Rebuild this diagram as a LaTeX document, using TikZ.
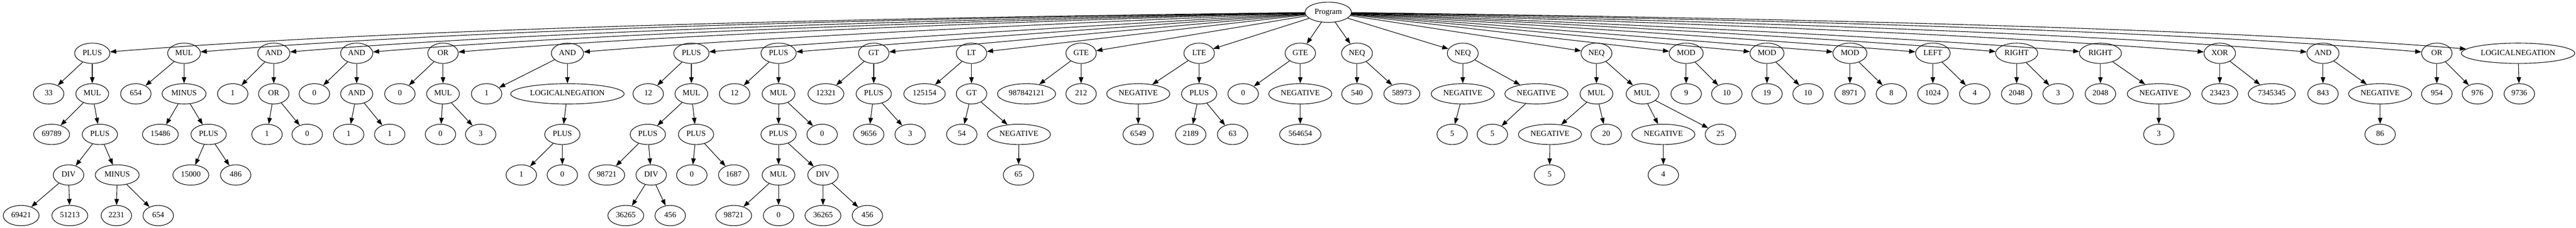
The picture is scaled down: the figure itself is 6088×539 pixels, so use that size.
\documentclass[tikz,border=0pt]{standalone}
\usepackage{fontspec}
\setmainfont{Liberation Serif}
\usetikzlibrary{shapes.geometric,arrows.meta}
\tikzset{
 nd/.style={draw, ellipse, line width=1pt, minimum width=54pt, minimum height=36pt, inner xsep=5pt, inner ysep=4pt, font=\fontsize{14}{16}\selectfont, text height=9.5pt, text depth=3pt},
 ed/.style={draw, line width=1pt, -{Triangle[length=11pt,width=8pt]}}
}
\newcommand\progedge[2]{%
 \pgfmathsetmacro\qqt{min(1,max(0,(abs(#2-3139)-1200)/1600))}%
 \pgfmathsetmacro\qqax{3139+0.4*(#2-3139)}%
 \pgfmathsetmacro\qqay{29+(0.4-0.25*\qqt)*97}%
 \pgfmathsetmacro\qqbx{3139+0.75*(#2-3139)}%
 \pgfmathsetmacro\qqby{29+(0.75-0.35*\qqt)*97}%
 \draw[ed] (p) .. controls (\qqax,\qqay) and (\qqbx,\qqby) .. (#1);}
\begin{document}
\begin{tikzpicture}[x=0.75pt,y=-0.75pt]
\useasboundingbox (0,0) rectangle (6088,539);
% row 0
\node[nd] (p) at (3139,29) {Program};
% row 1
\node[nd] (a1) at (218,126) {PLUS};
\node[nd] (a2) at (435,126) {MUL};
\node[nd] (a3) at (647,126) {AND};
\node[nd] (a4) at (843,126) {AND};
\node[nd] (a5) at (1047,126) {OR};
\node[nd] (a6) at (1341,126) {AND};
\node[nd] (a7) at (1634,126) {PLUS};
\node[nd] (a8) at (1840,126) {PLUS};
\node[nd] (a9) at (2065,126) {GT};
\node[nd] (a10) at (2296,126) {LT};
\node[nd] (a11) at (2555,126) {GTE};
\node[nd] (a12) at (2834,126) {LTE};
\node[nd] (a13) at (3073,126) {GTE};
\node[nd] (a14) at (3207,126) {NEQ};
\node[nd] (a15) at (3457,126) {NEQ};
\node[nd] (a16) at (3773,126) {NEQ};
\node[nd] (a17) at (3985,126) {MOD};
\node[nd] (a18) at (4176,126) {MOD};
\node[nd] (a19) at (4372,126) {MOD};
\node[nd] (a20) at (4568,126) {LEFT};
\node[nd] (a21) at (4766,126) {RIGHT};
\node[nd] (a22) at (4964,126) {RIGHT};
\node[nd] (a23) at (5246,126) {XOR};
\node[nd] (a24) at (5490,126) {AND};
\node[nd] (a25) at (5759,126) {OR};
\node[nd] (a26) at (5951,126) {LOGICALNEGATION};
% row 2
\node[nd] (b1a) at (115,222) {33};
\node[nd] (b1b) at (218,222) {MUL};
\node[nd] (b2a) at (321,222) {654};
\node[nd] (b2b) at (435,222) {MINUS};
\node[nd] (b3a) at (550,222) {1};
\node[nd] (b3b) at (647,222) {OR};
\node[nd] (b4a) at (743,222) {0};
\node[nd] (b4b) at (843,222) {AND};
\node[nd] (b5a) at (945,222) {0};
\node[nd] (b5b) at (1047,222) {MUL};
\node[nd] (b6a) at (1150,222) {1};
\node[nd] (b6b) at (1341,222) {LOGICALNEGATION};
\node[nd] (b7a) at (1532,222) {12};
\node[nd] (b7b) at (1634,222) {MUL};
\node[nd] (b8a) at (1736,222) {12};
\node[nd] (b8b) at (1840,222) {MUL};
\node[nd] (b9a) at (1952,222) {12321};
\node[nd] (b9b) at (2065,222) {PLUS};
\node[nd] (b10a) at (2185,222) {125154};
\node[nd] (b10b) at (2296,222) {GT};
\node[nd] (b11a) at (2426,222) {987842121};
\node[nd] (b11b) at (2555,222) {212};
\node[nd] (b12a) at (2690,222) {NEGATIVE};
\node[nd] (b12b) at (2834,222) {PLUS};
\node[nd] (b13a) at (2938,222) {0};
\node[nd] (b13b) at (3073,222) {NEGATIVE};
\node[nd] (b14a) at (3207,222) {540};
\node[nd] (b14b) at (3313,222) {58973};
\node[nd] (b15a) at (3457,222) {NEGATIVE};
\node[nd] (b15b) at (3631,222) {NEGATIVE};
\node[nd] (b16a) at (3773,222) {MUL};
\node[nd] (b16b) at (3882,222) {MUL};
\node[nd] (b17a) at (3985,222) {9};
\node[nd] (b17b) at (4081,222) {10};
\node[nd] (b18a) at (4176,222) {19};
\node[nd] (b18b) at (4273,222) {10};
\node[nd] (b19a) at (4372,222) {8971};
\node[nd] (b19b) at (4470,222) {8};
\node[nd] (b20a) at (4568,222) {1024};
\node[nd] (b20b) at (4667,222) {4};
\node[nd] (b21a) at (4766,222) {2048};
\node[nd] (b21b) at (4864,222) {3};
\node[nd] (b22a) at (4964,222) {2048};
\node[nd] (b22b) at (5102,222) {NEGATIVE};
\node[nd] (b23a) at (5246,222) {23423};
\node[nd] (b23b) at (5369,222) {7345345};
\node[nd] (b24a) at (5490,222) {843};
\node[nd] (b24b) at (5625,222) {NEGATIVE};
\node[nd] (b25a) at (5759,222) {954};
\node[nd] (b25b) at (5855,222) {976};
\node[nd] (b26a) at (5954,222) {9736};
% row 3
\node[nd] (c1a) at (122,318) {69789};
\node[nd] (c1b) at (236,318) {PLUS};
\node[nd] (c2a) at (379,318) {15486};
\node[nd] (c2b) at (493,318) {PLUS};
\node[nd] (c3a) at (631,318) {1};
\node[nd] (c3b) at (726,318) {0};
\node[nd] (c4a) at (824,318) {1};
\node[nd] (c4b) at (921,318) {1};
\node[nd] (c5a) at (1041,318) {0};
\node[nd] (c5b) at (1136,318) {3};
\node[nd] (c6) at (1329,318) {PLUS};
\node[nd] (c7a) at (1531,318) {PLUS};
\node[nd] (c7b) at (1645,318) {PLUS};
\node[nd] (c8a) at (1840,318) {PLUS};
\node[nd] (c8b) at (1943,318) {0};
\node[nd] (c9a) at (2053,318) {9656};
\node[nd] (c9b) at (2151,318) {3};
\node[nd] (c10a) at (2273,318) {54};
\node[nd] (c10b) at (2408,318) {NEGATIVE};
\node[nd] (c12) at (2690,318) {6549};
\node[nd] (c12a) at (2814,318) {2189};
\node[nd] (c12b) at (2913,318) {63};
\node[nd] (c13) at (3073,318) {564654};
\node[nd] (c15a) at (3432,318) {5};
\node[nd] (c15b) at (3527,318) {5};
\node[nd] (c16a) at (3663,318) {NEGATIVE};
\node[nd] (c16b) at (3796,318) {20};
\node[nd] (c16c) at (3931,318) {NEGATIVE};
\node[nd] (c16d) at (4066,318) {25};
\node[nd] (c22) at (5102,318) {3};
\node[nd] (c24) at (5625,318) {86};
% row 4
\node[nd] (d1a) at (162,414) {DIV};
\node[nd] (d1b) at (277,414) {MINUS};
\node[nd] (d2a) at (451,414) {15000};
\node[nd] (d2b) at (557,414) {486};
\node[nd] (d6a) at (1232,414) {1};
\node[nd] (d6b) at (1329,414) {0};
\node[nd] (d7a) at (1434,414) {98721};
\node[nd] (d7b) at (1539,414) {DIV};
\node[nd] (d7c) at (1635,414) {0};
\node[nd] (d7d) at (1734,414) {1687};
\node[nd] (d8a) at (1840,414) {MUL};
\node[nd] (d8b) at (1945,414) {DIV};
\node[nd] (d10) at (2407,414) {65};
\node[nd] (d16a) at (3662,414) {5};
\node[nd] (d16c) at (3931,414) {4};
% row 5
\node[nd] (e1a) at (50,510) {69421};
\node[nd] (e1b) at (165,510) {51213};
\node[nd] (e1c) at (275,510) {2231};
\node[nd] (e1d) at (374,510) {654};
\node[nd] (e7a) at (1479,510) {36265};
\node[nd] (e7b) at (1584,510) {456};
\node[nd] (e8a) at (1734,510) {98721};
\node[nd] (e8b) at (1840,510) {0};
\node[nd] (e8c) at (1945,510) {36265};
\node[nd] (e8d) at (2050,510) {456};
% edges from Program
\progedge{a1}{218}
\progedge{a2}{435}
\progedge{a3}{647}
\progedge{a4}{843}
\progedge{a5}{1047}
\progedge{a6}{1341}
\progedge{a7}{1634}
\progedge{a8}{1840}
\progedge{a9}{2065}
\progedge{a10}{2296}
\progedge{a11}{2555}
\progedge{a12}{2834}
\progedge{a13}{3073}
\progedge{a14}{3207}
\progedge{a15}{3457}
\progedge{a16}{3773}
\progedge{a17}{3985}
\progedge{a18}{4176}
\progedge{a19}{4372}
\progedge{a20}{4568}
\progedge{a21}{4766}
\progedge{a22}{4964}
\progedge{a23}{5246}
\progedge{a24}{5490}
\progedge{a25}{5759}
\progedge{a26}{5951}
% row1 -> row2
\draw[ed] (a1) -- (b1a); \draw[ed] (a1) -- (b1b);
\draw[ed] (a2) -- (b2a); \draw[ed] (a2) -- (b2b);
\draw[ed] (a3) -- (b3a); \draw[ed] (a3) -- (b3b);
\draw[ed] (a4) -- (b4a); \draw[ed] (a4) -- (b4b);
\draw[ed] (a5) -- (b5a); \draw[ed] (a5) -- (b5b);
\draw[ed] (a6) -- (b6a); \draw[ed] (a6) -- (b6b);
\draw[ed] (a7) -- (b7a); \draw[ed] (a7) -- (b7b);
\draw[ed] (a8) -- (b8a); \draw[ed] (a8) -- (b8b);
\draw[ed] (a9) -- (b9a); \draw[ed] (a9) -- (b9b);
\draw[ed] (a10) -- (b10a); \draw[ed] (a10) -- (b10b);
\draw[ed] (a11) -- (b11a); \draw[ed] (a11) -- (b11b);
\draw[ed] (a12) -- (b12a); \draw[ed] (a12) -- (b12b);
\draw[ed] (a13) -- (b13a); \draw[ed] (a13) -- (b13b);
\draw[ed] (a14) -- (b14a); \draw[ed] (a14) -- (b14b);
\draw[ed] (a15) -- (b15a); \draw[ed] (a15) -- (b15b);
\draw[ed] (a16) -- (b16a); \draw[ed] (a16) -- (b16b);
\draw[ed] (a17) -- (b17a); \draw[ed] (a17) -- (b17b);
\draw[ed] (a18) -- (b18a); \draw[ed] (a18) -- (b18b);
\draw[ed] (a19) -- (b19a); \draw[ed] (a19) -- (b19b);
\draw[ed] (a20) -- (b20a); \draw[ed] (a20) -- (b20b);
\draw[ed] (a21) -- (b21a); \draw[ed] (a21) -- (b21b);
\draw[ed] (a22) -- (b22a); \draw[ed] (a22) -- (b22b);
\draw[ed] (a23) -- (b23a); \draw[ed] (a23) -- (b23b);
\draw[ed] (a24) -- (b24a); \draw[ed] (a24) -- (b24b);
\draw[ed] (a25) -- (b25a); \draw[ed] (a25) -- (b25b);
\draw[ed] (a26) -- (b26a);
% row2 -> row3
\draw[ed] (b1b) -- (c1a); \draw[ed] (b1b) -- (c1b);
\draw[ed] (b2b) -- (c2a); \draw[ed] (b2b) -- (c2b);
\draw[ed] (b3b) -- (c3a); \draw[ed] (b3b) -- (c3b);
\draw[ed] (b4b) -- (c4a); \draw[ed] (b4b) -- (c4b);
\draw[ed] (b5b) -- (c5a); \draw[ed] (b5b) -- (c5b);
\draw[ed] (b6b) -- (c6);
\draw[ed] (b7b) -- (c7a); \draw[ed] (b7b) -- (c7b);
\draw[ed] (b8b) -- (c8a); \draw[ed] (b8b) -- (c8b);
\draw[ed] (b9b) -- (c9a); \draw[ed] (b9b) -- (c9b);
\draw[ed] (b10b) -- (c10a); \draw[ed] (b10b) -- (c10b);
\draw[ed] (b12a) -- (c12);
\draw[ed] (b12b) -- (c12a); \draw[ed] (b12b) -- (c12b);
\draw[ed] (b13b) -- (c13);
\draw[ed] (b15a) -- (c15a);
\draw[ed] (b15b) -- (c15b);
\draw[ed] (b16a) -- (c16a); \draw[ed] (b16a) -- (c16b);
\draw[ed] (b16b) -- (c16c); \draw[ed] (b16b) -- (c16d);
\draw[ed] (b22b) -- (c22);
\draw[ed] (b24b) -- (c24);
% row3 -> row4
\draw[ed] (c1b) -- (d1a); \draw[ed] (c1b) -- (d1b);
\draw[ed] (c2b) -- (d2a); \draw[ed] (c2b) -- (d2b);
\draw[ed] (c6) -- (d6a); \draw[ed] (c6) -- (d6b);
\draw[ed] (c7a) -- (d7a); \draw[ed] (c7a) -- (d7b);
\draw[ed] (c7b) -- (d7c); \draw[ed] (c7b) -- (d7d);
\draw[ed] (c8a) -- (d8a); \draw[ed] (c8a) -- (d8b);
\draw[ed] (c10b) -- (d10);
\draw[ed] (c16a) -- (d16a);
\draw[ed] (c16c) -- (d16c);
% row4 -> row5
\draw[ed] (d1a) -- (e1a); \draw[ed] (d1a) -- (e1b);
\draw[ed] (d1b) -- (e1c); \draw[ed] (d1b) -- (e1d);
\draw[ed] (d7b) -- (e7a); \draw[ed] (d7b) -- (e7b);
\draw[ed] (d8a) -- (e8a); \draw[ed] (d8a) -- (e8b);
\draw[ed] (d8b) -- (e8c); \draw[ed] (d8b) -- (e8d);
\end{tikzpicture}
\end{document}
